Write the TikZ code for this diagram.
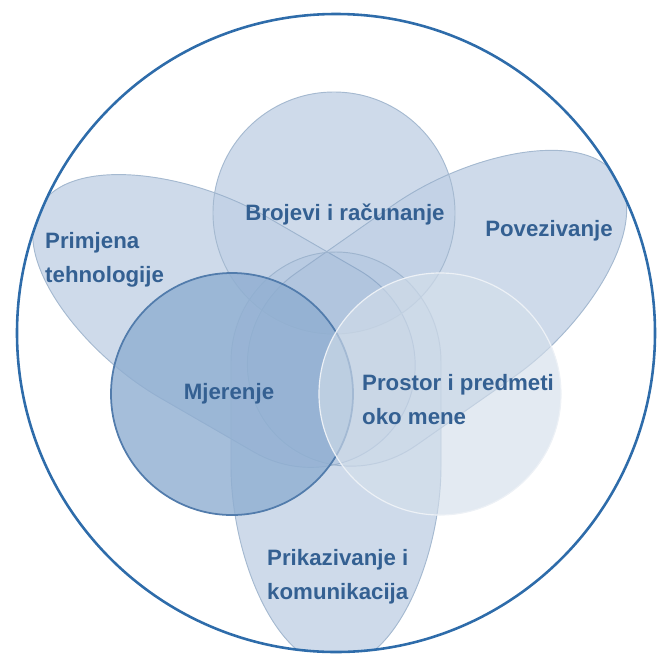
\documentclass[tikz,border=0pt]{standalone}
\usepackage{fontspec}
\setmainfont{Liberation Sans}

\definecolor{ringblue}{RGB}{46,108,170}
\definecolor{shapeblue}{RGB}{100,140,190}
\definecolor{edgegray}{RGB}{165,185,208}
\definecolor{darkedge}{RGB}{82,124,172}
\definecolor{midblue}{RGB}{143,174,209}
\definecolor{paleblue}{RGB}{211,222,234}
\definecolor{topicblue}{RGB}{52,96,146}

% petal along +x, broad end at #1, rounded tip at #2
\newcommand{\petalshape}[2]{%
  (#1,0) .. controls (#1,58) and ({#1+49},105) .. ({#1+110},105)
  -- ({#2-200},105) .. controls ({#2-110},105) and (#2,60) .. (#2,0)
  .. controls (#2,-60) and ({#2-110},-105) .. ({#2-200},-105)
  -- ({#1+110},-105) .. controls ({#1+49},-105) and (#1,-58) .. (#1,0) -- cycle}

\begin{document}
\begin{tikzpicture}
    [%%%%%%%%%%%%%%%%%%%%%%%%%%%%%%
        x=0.3mm, y=-0.3mm,
        petal/.style={fill=shapeblue, fill opacity=0.1, draw=edgegray, line width=0.8pt},
        measure/.style={fill=midblue, fill opacity=0.8, draw=darkedge, line width=1.5pt},
        space/.style={fill=paleblue, fill opacity=0.63, draw=white!80!edgegray, line width=1pt},
        ring/.style={draw=ringblue, line width=2.2pt},
        topic/.style={text=topicblue, font=\bfseries\fontsize{19}{29}\selectfont, align=left, inner sep=0pt},
    ]%%%%%%%%%%%%%%%%%%%%%%%%%%%%%%
    \useasboundingbox (0,0) rectangle (667,661);

    % petals and the top circle, cut by the big circle
    \begin{scope}
        \clip (336,333) circle [radius=95.7mm];
        \begin{scope}[transparency group, opacity=0.24]
            \foreach \px/\py/\ang/\near/\far in {315/366/150/-100/318, 355/360/35/-109/320, 336/331/-90/-79/335}
                \fill[shapeblue, shift={(\px,\py)}, rotate=\ang] \petalshape{\near}{\far};
            \fill[shapeblue] (334,213) circle [radius=36.3mm];
        \end{scope}
        \foreach \px/\py/\ang/\near/\far in {315/366/150/-100/318, 355/360/35/-109/320, 336/331/-90/-79/335}
            \draw[petal, shift={(\px,\py)}, rotate=\ang] \petalshape{\near}{\far};
        \draw[petal] (334,213) circle [radius=36.3mm];
    \end{scope}

    \draw[measure] (232,394) circle [radius=36.3mm];
    \draw[space] (440,394) circle [radius=36.3mm];

    \draw[ring] (336,333) circle [radius=95.7mm];

    \node[topic] (brojevi) at (345,214) {Brojevi i računanje};
    \node[topic] (povezivanje) at (549,231) {Povezivanje};
    \node[topic, anchor=west] (primjena) at (45,260) {Primjena\\tehnologije};
    \node[topic] (mjerenje) at (229,394) {Mjerenje};
    \node[topic, anchor=west] (prostor) at (362,400) {Prostor i predmeti\\oko mene};
    \node[topic, anchor=west] (prikazivanje) at (267,577) {Prikazivanje i\\komunikacija};

\end{tikzpicture}
\end{document}
